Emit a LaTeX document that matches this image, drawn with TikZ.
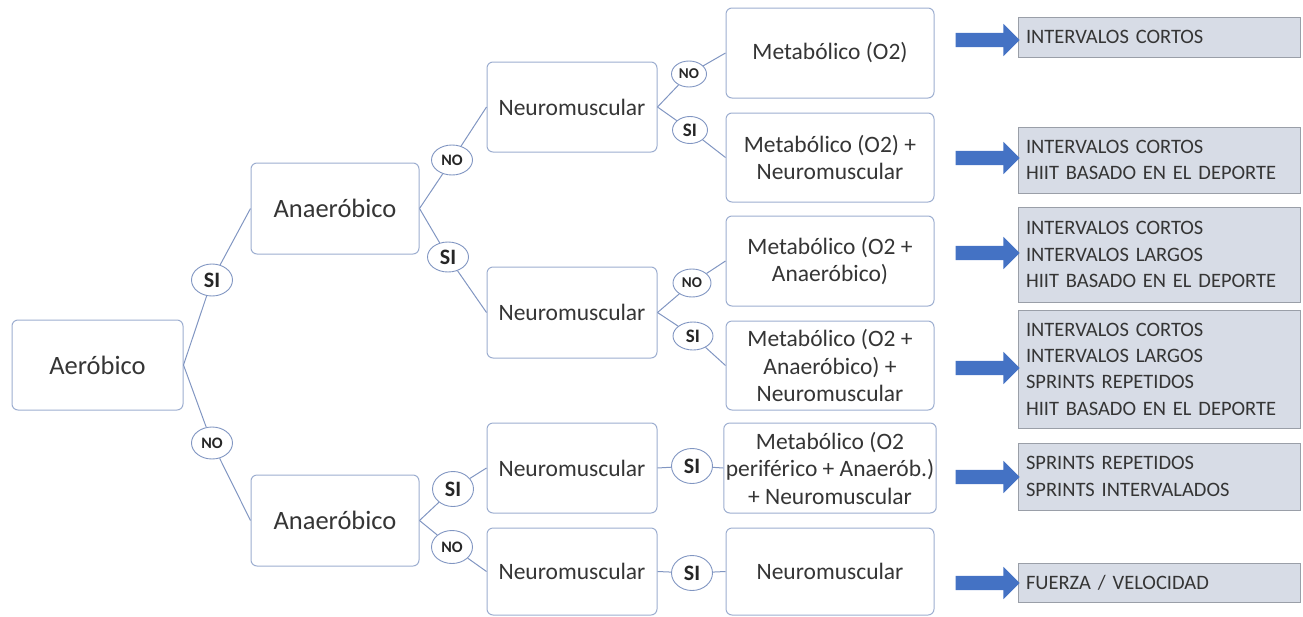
\documentclass[tikz,border=0pt]{standalone}
\usepackage{fontspec}
\setmainfont{Carlito}
\usetikzlibrary{shapes.geometric,shapes.arrows}
\definecolor{boxline}{HTML}{9DAED0}
\definecolor{conn}{HTML}{8196C2}
\definecolor{txt}{HTML}{353535}
\definecolor{rfill}{HTML}{D7DCE6}
\definecolor{rline}{HTML}{9A9FA8}
\definecolor{arrowblue}{HTML}{4472C4}
\tikzset{
  bigbox/.style={draw=boxline, line width=1pt, rounded corners=6pt, fill=white, text=txt,
    minimum width=168pt, minimum height=91pt, inner sep=2pt, align=center,
    font=\fontsize{26.5}{30}\selectfont},
  nmbox/.style={draw=boxline, line width=1pt, rounded corners=6pt, fill=white, text=txt,
    minimum width=170pt, minimum height=90pt, inner sep=2pt, align=center,
    font=\fontsize{23.5}{27.5}\selectfont},
  metbox/.style={nmbox, minimum width=208pt},
  resbox/.style={draw=rline, line width=0.8pt, fill=rfill, text=txt, minimum width=282pt,
    text width=266pt, inner xsep=8pt, inner ysep=0pt, align=left,
    font=\fontsize{20.5}{26.3}\selectfont},
  oval/.style={ellipse, draw=conn, line width=0.9pt, fill=white, text=black!85, inner sep=0pt,
    minimum width=41pt, minimum height=32pt, font=\bfseries\fontsize{22}{22}\selectfont},
  ovalno/.style={oval, font=\bfseries\fontsize{16}{16}\selectfont},
  smoval/.style={oval, minimum width=35pt, minimum height=26pt, font=\bfseries\fontsize{19}{19}\selectfont},
  smovalno/.style={smoval, font=\bfseries\fontsize{15}{15}\selectfont},
  link/.style={draw=conn, line width=1pt},
  bigarrow/.style={single arrow, fill=arrowblue, draw=none, minimum height=64pt,
    single arrow head extend=9pt, inner sep=0pt, anchor=center}
}
\newcommand{\shaft}{\rule{0pt}{14pt}}
\begin{document}
\begin{tikzpicture}[x=1pt,y=-1pt]
\path[use as bounding box] (0,0) rectangle (1303,616);

% level 0/1
\node[bigbox, minimum width=171pt, minimum height=90pt] (aer) at (97.5,365) {Aeróbico};
\node[bigbox] (anaT) at (335,208.5) {Anaeróbico};
\node[bigbox] (anaB) at (335,520.5) {Anaeróbico};

% neuromuscular
\node[nmbox] (nmA) at (572,107) {Neuromuscular};
\node[nmbox, minimum height=91pt] (nmB) at (572,312.5) {Neuromuscular};
\node[nmbox] (nmC) at (572,468) {Neuromuscular};
\node[nmbox, minimum height=87pt] (nmD) at (572,571.5) {Neuromuscular};

% metabolic
\node[metbox] (m1) at (830,53) {Metabólico (O2)};
\node[metbox, minimum height=89pt] (m2) at (830,157.5) {Metabólico (O2) +\\Neuromuscular};
\node[metbox] (m3) at (830,261) {Metabólico (O2 +\\Anaeróbico)};
\node[metbox, minimum height=89pt] (m4) at (830,365.5) {Metabólico (O2 +\\Anaeróbico) +\\Neuromuscular};
\node[metbox] (m5) at (830,468) {Metabólico (O2\\periférico + Anaerób.)\\+ Neuromuscular};
\node[metbox, minimum height=87pt] (m6) at (830,571.5) {Neuromuscular};

% ovals
\node[oval] (o1) at (212,280) {SI};
\node[ovalno] (o2) at (212,443) {NO};
\node[ovalno, minimum height=30pt] (o3) at (452,160) {NO};
\node[oval, minimum height=30pt] (o4) at (448,257) {SI};
\node[oval, minimum height=35pt] (o5) at (453,489) {SI};
\node[ovalno, minimum height=33pt] (o6) at (452,547) {NO};
\node[smovalno] (o7) at (689,74) {NO};
\node[smoval, minimum height=27pt] (o8) at (690,130) {SI};
\node[smovalno, minimum width=38pt, minimum height=28pt] (o9) at (692,283) {NO};
\node[smoval, minimum width=40pt, minimum height=28pt] (o10) at (693,336) {SI};
\node[oval, minimum height=35pt] (o11) at (692,466) {SI};
\node[oval, minimum height=35pt] (o12) at (692,573) {SI};

% connectors
\path[link] (aer.east) -- (o1) -- (anaT.west);
\path[link] (aer.east) -- (o2) -- (anaB.west);
\path[link] (anaT.east) -- (o3) -- (nmA.west);
\path[link] (anaT.east) -- (o4) -- (nmB.west);
\path[link] (anaB.east) -- (o5) -- (nmC.west);
\path[link] (anaB.east) -- (o6) -- (nmD.west);
\path[link] (nmA.east) -- (o7) -- (m1.west);
\path[link] (nmA.east) -- (o8) -- (m2.west);
\path[link] (nmB.east) -- (o9) -- (m3.west);
\path[link] (nmB.east) -- (o10) -- (m4.west);
\path[link] (nmC.east) -- (o11) -- (m5.west);
\path[link] (nmD.east) -- (o12) -- (m6.west);

% result boxes
\node[resbox, minimum height=40pt] (r1) at (1159,37) {INTERVALOS CORTOS};
\node[resbox, minimum height=66pt] (r2) at (1159,160) {INTERVALOS CORTOS\\HIIT BASADO EN EL DEPORTE};
\node[resbox, minimum height=95pt] (r3) at (1159,254.5) {INTERVALOS CORTOS\\INTERVALOS LARGOS\\HIIT BASADO EN EL DEPORTE};
\node[resbox, minimum height=118pt] (r4) at (1159,369) {INTERVALOS CORTOS\\INTERVALOS LARGOS\\SPRINTS REPETIDOS\\HIIT BASADO EN EL DEPORTE};
\node[resbox, minimum height=67pt] (r5) at (1159,476.5) {SPRINTS REPETIDOS\\SPRINTS INTERVALADOS};
\node[resbox, minimum height=39pt] (r6) at (1159,582.5) {FUERZA / VELOCIDAD};

% arrows
\node[bigarrow] (a1) at (984,40) {\shaft};
\node[bigarrow] (a2) at (984,158) {\shaft};
\node[bigarrow] (a3) at (984,253) {\shaft};
\node[bigarrow] (a4) at (984,368) {\shaft};
\node[bigarrow] (a5) at (984,477) {\shaft};
\node[bigarrow] (a6) at (984,583) {\shaft};
\end{tikzpicture}
\end{document}
